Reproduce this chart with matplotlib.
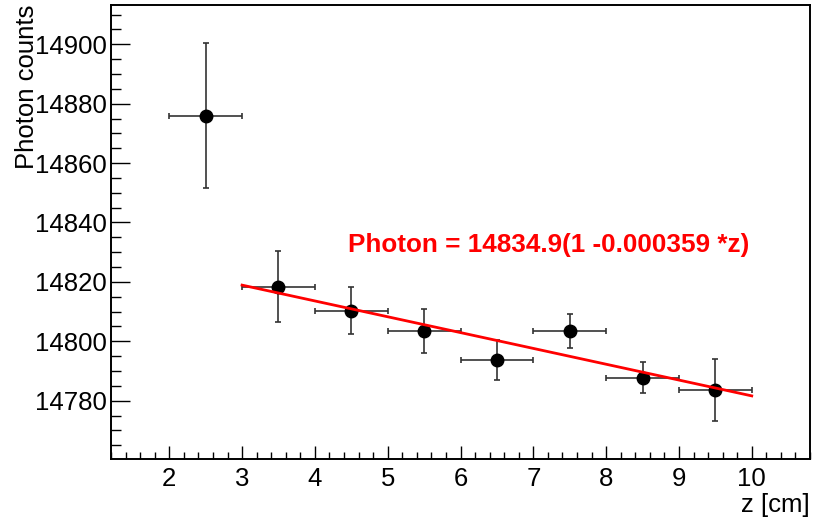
import numpy as np
import matplotlib
matplotlib.use("Agg")
import matplotlib.pyplot as plt
from matplotlib.ticker import MultipleLocator

plt.rcParams['font.family'] = ['Liberation Sans', 'DejaVu Sans']

# measured photon counts vs z
z = [2.5, 3.5, 4.5, 5.5, 6.5, 7.5, 8.5, 9.5]
z_err = [0.5, 0.5, 0.5, 0.5, 0.5, 0.5, 0.5, 0.5]
counts = [14876.0, 14818.4, 14810.3, 14803.4, 14793.7, 14803.5, 14787.8, 14783.6]
counts_err = [24.4, 12.0, 7.9, 7.4, 6.7, 5.8, 5.1, 10.5]

# fit: Photon = p0 * (1 + p1 * z)
p0 = 14834.9
p1 = -0.000359
fit_range = [3.0, 10.0]

fig = plt.figure(figsize=(8.13, 5.2), dpi=100)
ax = fig.add_axes([111/813, 1 - 459/520, (810 - 111)/813, (459 - 5)/520])

ax.errorbar(z, counts, xerr=z_err, yerr=counts_err, fmt='o', color='black',
            ecolor='#333333', elinewidth=1.2, capsize=2.5, capthick=1.2,
            markersize=9, zorder=3)

zz = np.linspace(fit_range[0], fit_range[1], 50)
ax.plot(zz, p0 * (1 + p1 * zz), color='red', lw=2.0, zorder=4)

ax.text(4.455, 14832.5, "Photon = 14834.9(1 -0.000359 *z)", color='red',
        fontsize=18.8, fontweight='bold', va='center', ha='left')

ax.set_xlim(1.2, 10.8)
ax.set_ylim(14760.4, 14913.2)

ax.xaxis.set_major_locator(MultipleLocator(1))
ax.xaxis.set_minor_locator(MultipleLocator(0.2))
ax.yaxis.set_major_locator(MultipleLocator(20))
ax.yaxis.set_minor_locator(MultipleLocator(5))

ax.tick_params(axis='x', which='major', direction='in', length=9.4, width=1,
               labelsize=18.5, pad=6, top=False)
ax.tick_params(axis='x', which='minor', direction='in', length=4.7, width=1, top=False)
ax.tick_params(axis='y', which='major', direction='in', length=14, width=1,
               labelsize=18.5, pad=3, right=False)
ax.tick_params(axis='y', which='minor', direction='in', length=7, width=1, right=False)

for s in ax.spines.values():
    s.set_linewidth(1.4)

ax.set_xlabel("z [cm]", fontsize=18.5, loc='right', labelpad=1)
ax.set_ylabel("Photon counts", fontsize=18.5, loc='top', labelpad=-3)

fig.savefig("out.png", dpi=100)
